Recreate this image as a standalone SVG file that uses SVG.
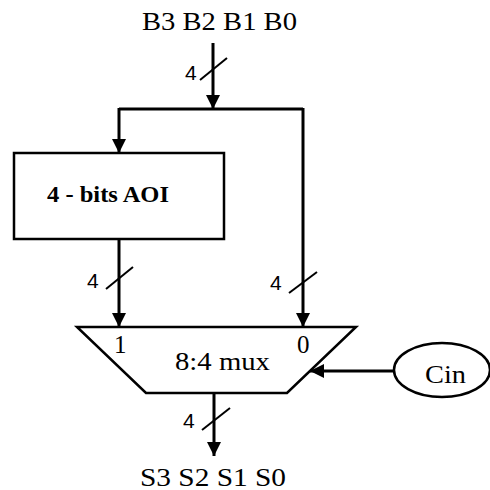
<svg xmlns="http://www.w3.org/2000/svg" width="490" height="490" viewBox="0 0 490 490">
<style>
.w{stroke:#000;stroke-width:3;fill:none}
.s{stroke:#000;stroke-width:2;fill:none}
.t{font-family:"Liberation Serif",serif;font-size:25px;fill:#000}
.n{font-family:"Liberation Sans",sans-serif;font-size:21px;fill:#000}
.b{font-family:"Liberation Serif",serif;font-size:24px;font-weight:bold;fill:#000}
.box{stroke:#000;stroke-width:2.5;fill:#fff}
</style>
<defs>
<marker id="ah" markerWidth="14" markerHeight="14" refX="14" refY="7" orient="auto" markerUnits="userSpaceOnUse">
<path d="M0,0 L14,7 L0,14 Z" fill="#000"/>
</marker>
</defs>
<g id="labels">
<text class="t" x="142" y="30" textLength="155" lengthAdjust="spacingAndGlyphs">B3 B2 B1 B0</text>
<text class="t" x="140" y="486" textLength="146" lengthAdjust="spacingAndGlyphs">S3 S2 S1 S0</text>
</g>
<g id="aoi">
<rect class="box" x="14" y="153" width="210" height="86"/>
<text class="b" x="47" y="202" textLength="122" lengthAdjust="spacingAndGlyphs">4 - bits AOI</text>
</g>
<g id="mux">
<path class="box" d="M77,327 L356,327 L287,393 L146,393 Z"/>
<text class="t" x="114" y="353">1</text>
<text class="t" x="297" y="353">0</text>
<text class="t" x="175" y="370" textLength="95" lengthAdjust="spacingAndGlyphs">8:4 mux</text>
</g>
<g id="cin">
<ellipse class="box" cx="442" cy="370" rx="48" ry="27"/>
<text class="t" x="425" y="383" textLength="41" lengthAdjust="spacingAndGlyphs">Cin</text>
</g>
<g id="connectors">
<line class="w" x1="213" y1="43" x2="213" y2="109" marker-end="url(#ah)"/>
<polyline class="w" points="119,109 303,109"/>
<line class="w" x1="119" y1="108" x2="119" y2="153" marker-end="url(#ah)"/>
<line class="w" x1="303" y1="108" x2="303" y2="327" marker-end="url(#ah)"/>
<line class="w" x1="119" y1="239" x2="119" y2="327" marker-end="url(#ah)"/>
<line class="w" x1="214" y1="393" x2="214" y2="456" marker-end="url(#ah)"/>
<line class="w" x1="393" y1="371" x2="310" y2="371" marker-end="url(#ah)"/>
<line class="s" x1="200" y1="80" x2="227" y2="58"/>
<line class="s" x1="106" y1="289" x2="133" y2="267"/>
<line class="s" x1="289" y1="293" x2="317" y2="272"/>
<line class="s" x1="202" y1="430" x2="230" y2="408"/>
<text class="n" x="185" y="80">4</text>
<text class="n" x="87" y="288">4</text>
<text class="n" x="270" y="290">4</text>
<text class="n" x="183" y="428">4</text>
</g>
</svg>
